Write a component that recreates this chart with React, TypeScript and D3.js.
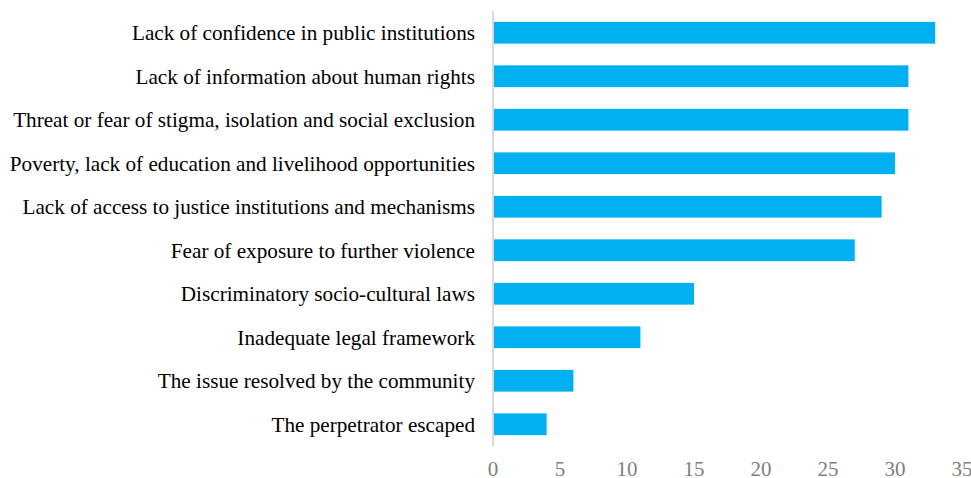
import React from "react";
import * as d3 from "d3";

const categories = [
  "Lack of confidence in public institutions",
  "Lack of information about human rights",
  "Threat or fear of stigma, isolation and social exclusion",
  "Poverty, lack of education and livelihood opportunities",
  "Lack of access to justice institutions and mechanisms",
  "Fear of exposure to further violence",
  "Discriminatory socio-cultural laws",
  "Inadequate legal framework",
  "The issue resolved by the community",
  "The perpetrator escaped",
];
const values = [33, 31, 31, 30, 29, 27, 15, 11, 6, 4];
const xTicks = [0, 5, 10, 15, 20, 25, 30, 35];

const W = 971;
const H = 478;
const left = 493;
const right = 962;
const top = 11;
const bottom = 446;

export default function App() {
  const x = d3.scaleLinear().domain([0, 35]).range([left, right]);
  const y = d3
    .scaleBand<string>()
    .domain(categories)
    .range([top, bottom])
    .paddingInner(0.5)
    .paddingOuter(0.25);
  const font = "'Liberation Serif', 'Times New Roman', serif";
  return (
    <svg
      width={W}
      height={H}
      style={{ position: "absolute", left: 0, top: 0, background: "#fff" }}
    >
      {categories.map((c, i) => (
        <g key={c}>
          <rect
            x={x(0)}
            y={y(c)!}
            width={x(values[i]) - x(0)}
            height={y.bandwidth()}
            fill="#00B0F0"
          />
          <text
            x={475}
            y={y(c)! + y.bandwidth() / 2}
            dy="0.35em"
            textAnchor="end"
            fontFamily={font}
            fontSize={21.2}
            fill="#000"
          >
            {c}
          </text>
        </g>
      ))}
      <line x1={left} x2={left} y1={top} y2={bottom} stroke="#d9d9d9" strokeWidth={2} />
      {xTicks.map((t) => (
        <text
          key={t}
          x={x(t)}
          y={476}
          textAnchor="middle"
          fontFamily={font}
          fontSize={21}
          fill="#7f7f7f"
        >
          {t}
        </text>
      ))}
    </svg>
  );
}
